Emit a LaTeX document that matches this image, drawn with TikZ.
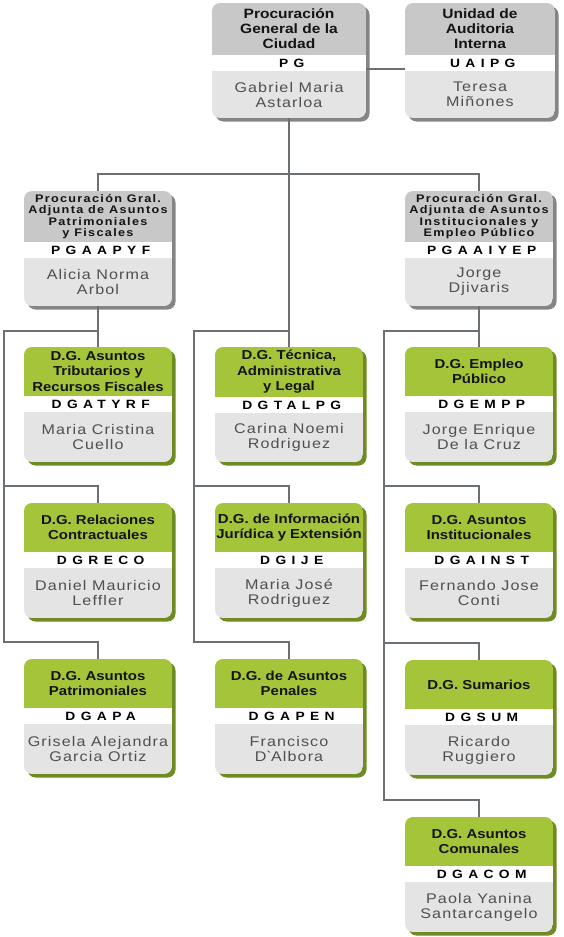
\documentclass[tikz,border=0pt]{standalone}
\usepackage{fontspec}
\usepackage{xcolor}
\usepackage{tikz}

\setmainfont{Liberation Sans}
\newfontfamily\headfont[FakeStretch=1.15]{Liberation Sans}
\newfontfamily\adjfont[FakeStretch=1.15,LetterSpace=12]{Liberation Sans}
\newfontfamily\codefont[FakeStretch=1.15,LetterSpace=45]{Liberation Sans}
\newfontfamily\namefont[FakeStretch=1.15,LetterSpace=8]{Liberation Sans}

\definecolor{headgray}{HTML}{C8C8C8}
\definecolor{namebg}{HTML}{E4E4E4}
\definecolor{dggreen}{HTML}{A4C43A}
\definecolor{grayshade}{HTML}{858585}
\definecolor{greenshade}{HTML}{6E8C22}
\definecolor{linkgray}{HTML}{6B7075}
\definecolor{titlecol}{HTML}{141414}
\definecolor{namecol}{HTML}{4F4F4F}

\tikzset{
  fill-top/.style={fill=headgray},
  fill-adj/.style={fill=headgray},
  fill-dg/.style={fill=dggreen},
  shadow-top/.style={fill=grayshade},
  shadow-adj/.style={fill=grayshade},
  shadow-dg/.style={fill=greenshade},
  title-top/.style={align=center, inner sep=0pt, text=titlecol, font=\headfont\bfseries\fontsize{13.5}{15}\selectfont},
  title-adj/.style={align=center, inner sep=0pt, text=titlecol, font=\adjfont\bfseries\fontsize{11}{11.3}\selectfont},
  title-dg/.style={align=center, inner sep=0pt, text=titlecol, font=\headfont\bfseries\fontsize{13}{15.5}\selectfont},
  codetxt/.style={inner sep=0pt, xshift=2.7pt, text=black, font=\codefont\bfseries\fontsize{12}{12}\selectfont},
  nametxt/.style={align=center, inner sep=0pt, text=namecol, font=\namefont\fontsize{14}{15}\selectfont},
  frame/.style={draw=none, inner sep=0pt, minimum height=115pt},
  link/.style={draw=linkgray, line width=2pt}
}

% #1 name, #2 x, #3 y, #4 width, #5 header height, #6 kind, #7 title, #8 code, #9 person
\newcommand{\orgbox}[9]{%
  \fill[shadow-#6, rounded corners=8pt] ({#2+3.5},{#3+3.5}) rectangle ++(#4,115);
  \begin{scope}
    \clip[rounded corners=8pt] (#2,#3) rectangle ++(#4,115);
    \fill[fill-#6] (#2,#3) rectangle ++(#4,#5);
    \fill[white] (#2,{#3+#5}) rectangle ++(#4,16);
    \fill[namebg] (#2,{#3+#5+16}) rectangle ({#2+#4},{#3+115});
  \end{scope}
  \node[frame, minimum width=#4pt, anchor=north west] (#1) at (#2,#3) {};
  \node[title-#6] (#1-title) at ({#2+#4/2},{#3+#5/2}) {#7};
  \node[codetxt] (#1-code) at ({#2+#4/2},{#3+#5+8}) {#8};
  \node[nametxt] (#1-name) at ({#2+#4/2},{#3+(#5+131)/2}) {#9};
}

\begin{document}
\begin{tikzpicture}[x=1pt,y=1pt,yscale=-1,xscale=1]
\useasboundingbox (0,0) rectangle (563,937);

% top level
\orgbox{pg}{212}{3}{154}{52}{top}{Procuración\\General de la\\Ciudad}{PG}{Gabriel Maria\\Astarloa}
\orgbox{uaipg}{405}{3}{150}{52}{top}{Unidad de\\Auditoria\\Interna}{UAIPG}{Teresa\\Miñones}

% adjuntas
\orgbox{pgaapyf}{24}{191}{148}{51}{adj}{Procuración Gral.\\Adjunta de Asuntos\\Patrimoniales\\y Fiscales}{PGAAPYF}{Alicia Norma\\Arbol}
\orgbox{pgaaiyep}{405}{191}{148}{51}{adj}{Procuración Gral.\\Adjunta de Asuntos\\Institucionales y\\Empleo Público}{PGAAIYEP}{Jorge\\Djivaris}

% left column
\orgbox{dgatyrf}{24}{347}{148}{49}{dg}{D.G. Asuntos\\Tributarios y\\Recursos Fiscales}{DGATYRF}{Maria Cristina\\Cuello}
\orgbox{dgreco}{24}{503}{148}{49}{dg}{D.G. Relaciones\\Contractuales}{DGRECO}{Daniel Mauricio\\Leffler}
\orgbox{dgapa}{24}{659}{148}{49}{dg}{D.G. Asuntos\\Patrimoniales}{DGAPA}{Grisela Alejandra\\Garcia Ortiz}

% middle column
\orgbox{dgtalpg}{215}{347}{148}{50}{dg}{D.G. Técnica,\\Administrativa\\y Legal}{DGTALPG}{Carina Noemi\\Rodriguez}
\orgbox{dgije}{215}{503}{148}{49}{dg}{D.G. de Información\\Jurídica y Extensión}{DGIJE}{Maria José\\Rodriguez}
\orgbox{dgapen}{215}{659}{148}{49}{dg}{D.G. de Asuntos\\Penales}{DGAPEN}{Francisco\\D\textasciigrave Albora}

% right column
\orgbox{dgempp}{405}{347}{148}{49}{dg}{D.G. Empleo\\Público}{DGEMPP}{Jorge Enrique\\De la Cruz}
\orgbox{dgainst}{405}{503}{148}{49}{dg}{D.G. Asuntos\\Institucionales}{DGAINST}{Fernando Jose\\Conti}
\orgbox{dgsum}{405}{660}{148}{49}{dg}{D.G. Sumarios}{DGSUM}{Ricardo\\Ruggiero}
\orgbox{dgacom}{405}{817}{148}{49}{dg}{D.G. Asuntos\\Comunales}{DGACOM}{Paola Yanina\\Santarcangelo}

% bus corners
\coordinate (lb1) at (4,331);
\coordinate (lb2) at (4,486);
\coordinate (lb3) at (4,642);
\coordinate (mb1) at (194,331);
\coordinate (mb2) at (194,486);
\coordinate (mb3) at (194,642);
\coordinate (rb1) at (384,331);
\coordinate (rb2) at (384,486);
\coordinate (rb3) at (384,643);
\coordinate (rb4) at (384,800);

% links
\draw[link] ([yshift=8pt]pg.east) -- ([yshift=8pt]pg.east -| uaipg.west);
\draw[link] (pg.south) -- (dgtalpg.north);
\draw[link] (pgaapyf.north) -- ++(0,-17) -| (pgaaiyep.north);

\draw[link] (pgaapyf.south) -- (dgatyrf.north);
\draw[link] (dgatyrf.north |- lb1) -- (lb1) -- (lb3) -| (dgapa.north);
\draw[link] (lb2) -| (dgreco.north);

\draw[link] (dgtalpg.north |- mb1) -- (mb1) -- (mb3) -| (dgapen.north);
\draw[link] (mb2) -| (dgije.north);

\draw[link] (pgaaiyep.south) -- (dgempp.north);
\draw[link] (dgempp.north |- rb1) -- (rb1) -- (rb4) -| (dgacom.north);
\draw[link] (rb2) -| (dgainst.north);
\draw[link] (rb3) -| (dgsum.north);

\end{tikzpicture}
\end{document}
